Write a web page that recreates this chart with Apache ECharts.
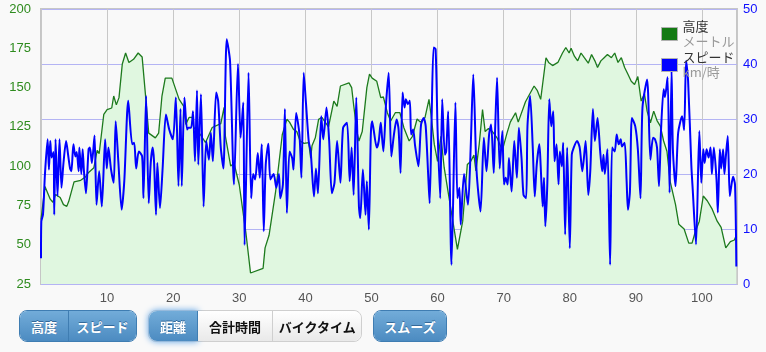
<!DOCTYPE html>
<html>
<head>
<meta charset="utf-8">
<script src="https://cdn.jsdelivr.net/npm/echarts@6/dist/echarts.min.js"></script>
<style>
  html, body { margin: 0; padding: 0; background: #f9f9f9; }
  #chart { position: absolute; left: 0; top: 0; width: 766px; height: 352px; }
  .grp {
    position: absolute; top: 310px; height: 30px; display: flex;
    border-radius: 8px; overflow: hidden; border: 1px solid #3f7db2;
  }
  .btn {
    display: flex; align-items: center; justify-content: center;
    font: bold 13px "Noto Sans CJK JP", sans-serif; color: #fff;
    background: linear-gradient(#72acd9, #4c8bc1);
    text-shadow: 0 -1px 0 #33699a;
  }
  .btn + .btn { border-left: 1px solid #3f7db2; }
  .light {
    color: #111; text-shadow: none;
    background: linear-gradient(#ffffff, #e9e9e9);
  }
  .light + .light { border-left: 1px solid #cfcfcf; }
  .grp.white { border-color: #cfcfcf; overflow: visible; }
  .active { box-shadow: 0 0 6px 1px #6aa9e6; border-radius: 8px 0 0 8px; }
</style>
</head>
<body>
<div id="chart"></div>

<div class="grp" style="left:19px;width:116px;">
  <div class="btn" style="width:48px;">高度</div>
  <div class="btn" style="width:67px;">スピード</div>
</div>
<div class="grp white" style="left:148px;width:212px;">
  <div class="btn active" style="width:48px;">距離</div>
  <div class="btn light" style="width:75px;">合計時間</div>
  <div class="btn light" style="width:88px;border-radius:0 8px 8px 0;">バイクタイム</div>
</div>
<div class="grp" style="left:373px;width:72px;">
  <div class="btn" style="width:72px;">スムーズ</div>
</div>

<script>
// 高度 (km, m)
const altitude = [
  [0, 66], [0.6, 87], [1.4, 79], [1.8, 77], [2.2, 82], [2.9, 80], [3.4, 75.5], [3.9, 74.4],
  [4.2, 77.6], [5, 90], [6, 91], [6.7, 93], [7.2, 96], [8, 99], [8.5, 110], [8.8, 108],
  [9.5, 133], [10, 136], [10.7, 137], [11, 144.6], [11.4, 139], [11.8, 143.6], [12.3, 165],
  [12.8, 172], [13.3, 166], [14, 168], [14.7, 172], [15.3, 169.5], [15.8, 145.7], [16.3, 121],
  [17.3, 118], [17.8, 121], [18.3, 144.6], [18.8, 156], [19.8, 156], [20.9, 142.5], [21.6, 138],
  [21.9, 126.5], [22.4, 131], [22.9, 131], [23.1, 124.6], [23.9, 121.4], [24.9, 115],
  [25.9, 124.6], [27.2, 127], [27.7, 137.4], [27.9, 119], [28.7, 100], [29.2, 102], [30, 88],
  [31, 57.5], [31.7, 32], [33.6, 35], [33.9, 48], [34.5, 56], [35.5, 84], [36.5, 120],
  [37.2, 129.8], [37.6, 128], [38.2, 123.4], [38.7, 122], [39.2, 116], [39.8, 114.5],
  [40.5, 115], [40.8, 105], [41, 113], [41.5, 118], [42, 129.8], [42.5, 131], [43, 128],
  [43.5, 125], [44.3, 141.4], [44.8, 138], [45.3, 151], [46.6, 153], [47, 150], [47.3, 139],
  [47.8, 122], [48.1, 116], [48.6, 122], [49.3, 150], [49.7, 158.5], [50.1, 156], [50.8, 154],
  [51.4, 143.6], [51.8, 144], [52.4, 134], [52.9, 128.7], [53.6, 134], [54.3, 134],
  [54.9, 124.5], [55.7, 116], [56.2, 119], [56.9, 130], [57.4, 128], [58.1, 131], [58.7, 142.5],
  [59, 133], [59.5, 114], [60, 103], [60.5, 119], [61, 99], [62, 73], [63, 47], [63.8, 65],
  [64.5, 101], [65, 103], [65.5, 107], [65.8, 97], [66.3, 114], [66.8, 136], [67.2, 122],
  [67.7, 124], [68.3, 122], [69, 118], [69.8, 110], [70.5, 121], [71, 128], [71.8, 134],
  [72.2, 128], [73.3, 141], [73.6, 142], [74.6, 151], [75.1, 148], [75.6, 142.5], [76.4, 169],
  [76.8, 166], [77.4, 164], [78.2, 166], [78.9, 172], [79.4, 175.5], [79.9, 172], [80.2, 175],
  [80.7, 170], [81.2, 167], [81.7, 172], [82.2, 169], [82.8, 165.5], [83.3, 171], [83.8, 167],
  [84.2, 162.8], [84.7, 167], [85.2, 169], [85.7, 171], [86.3, 169], [86.8, 172], [87.3, 166],
  [87.8, 169], [88.3, 162.8], [88.8, 158.5], [89.3, 154], [89.8, 152], [90.3, 157],
  [90.8, 141.4], [91.3, 146], [91.7, 135], [92.2, 127.6], [92.7, 135], [93.2, 129],
  [93.7, 125.5], [94.2, 116], [94.7, 109.5], [95.2, 90], [96, 75.5], [96.5, 63], [97.3, 60],
  [98, 51], [98.5, 51], [99, 58.4], [99.6, 65], [100.2, 81], [100.8, 78], [101.5, 73],
  [102.3, 65], [102.9, 61], [103.6, 48], [104.3, 52], [104.9, 53], [105.2, 56]
];

// スピード (km, km/時)
const speed = [
  [0, 4.7], [0.05, 11.4], [0.3, 12.6], [0.6, 20], [1.0, 26.3], [1.2, 20.8], [1.4, 26], [1.6, 23],
  [1.9, 24], [2.0, 12.6], [2.2, 26.3], [2.5, 16], [2.8, 26.3], [3.1, 17.5], [3.4, 22], [3.8, 26],
  [4.1, 23.5], [4.4, 21], [4.6, 20.5], [4.9, 25.4], [5.2, 23.2], [5.4, 24], [5.7, 20.5],
  [5.8, 24.8], [6.1, 20], [6.3, 24.5], [6.5, 20.5], [6.8, 16.5], [7.2, 24.5], [7.4, 24.8],
  [7.7, 22], [8.1, 27], [8.4, 14.4], [8.8, 20.5], [9.2, 14.1], [9.7, 26.3], [9.95, 21],
  [10.2, 24.8], [10.6, 20.8], [11.0, 18.4], [11.3, 29.6], [11.7, 22.3], [12.2, 13.5],
  [12.6, 18.7], [13.2, 33.3], [13.8, 25.4], [14.1, 25.7], [14.4, 21], [14.8, 24.1], [15.3, 23.2],
  [15.5, 15.6], [15.9, 34.2], [16.3, 14.7], [16.6, 22], [16.9, 24.8], [17.1, 22.3], [17.4, 12.6],
  [17.6, 22], [18.0, 13.8], [18.4, 21], [18.9, 30.8], [19.4, 28.1], [19.95, 26.3], [20.4, 33.9],
  [20.8, 17.8], [21.1, 31.8], [21.3, 17.8], [21.7, 33.9], [22.1, 28.1], [22.3, 28.4],
  [22.7, 28.4], [23.0, 31.4], [23.3, 22.3], [23.6, 35.2], [23.8, 21.7], [24.2, 34.5],
  [24.6, 14.1], [25.0, 26], [25.4, 22.6], [25.7, 27.5], [26.0, 22.3], [26.5, 34.8], [26.8, 33.3],
  [27.2, 24.8], [27.6, 21], [28.1, 44.5], [28.6, 40.5], [29.2, 18.1], [29.8, 40], [30.2, 26.6],
  [30.6, 33], [30.8, 7.1], [31.4, 38.4], [31.8, 15.6], [32.1, 20], [32.4, 19], [32.8, 23.8],
  [33.1, 19.3], [33.4, 25.4], [33.7, 9.6], [34.0, 21.7], [34.4, 25.5], [34.7, 19], [35.2, 20],
  [35.6, 17.5], [36.0, 20], [36.2, 15.6], [36.6, 18.1], [36.9, 31.8], [37.2, 12.9], [37.6, 24.1],
  [38.0, 22.9], [38.2, 20.8], [38.6, 31.1], [39.1, 27.2], [39.4, 19.3], [39.75, 38.4],
  [40.1, 32.7], [40.5, 26], [40.8, 24.1], [41.3, 15.9], [41.6, 21], [41.9, 16.5], [42.4, 30.5],
  [42.7, 26.3], [43.2, 32.1], [43.6, 26], [44.0, 16.5], [44.4, 18.4], [44.8, 26], [45.3, 18.4],
  [45.7, 28.4], [46.3, 29.3], [46.7, 18.7], [47.0, 24.8], [47.3, 16.2], [47.7, 33.9],
  [48.1, 14.1], [48.3, 12], [48.7, 20.8], [49.1, 12.6], [49.3, 18.7], [49.6, 9.9], [49.9, 27.2],
  [50.1, 29.6], [50.8, 24.8], [51.1, 26], [51.4, 29.3], [51.5, 28.1], [51.8, 24.1], [52.2, 32.7],
  [52.6, 38.4], [53.0, 23.2], [53.4, 27.2], [53.8, 29.9], [54.1, 28.1], [54.4, 20.2],
  [54.7, 34.8], [55.0, 32.1], [55.2, 33.6], [55.5, 32.7], [55.8, 33.3], [56.0, 27.2],
  [56.3, 28.1], [56.6, 25.1], [57.1, 21.4], [57.5, 29], [57.9, 30.2], [58.2, 28.7], [58.6, 19.3],
  [58.8, 14.7], [59.1, 30.2], [59.4, 43], [59.7, 42.7], [60.0, 28], [60.4, 15.6], [60.7, 33.6],
  [61.1, 23.5], [61.3, 24.1], [61.6, 31.4], [62.0, 7.1], [62.1, 3.5], [62.7, 33], [63.0, 15.6],
  [63.3, 17.5], [63.5, 10.8], [64.0, 20], [64.6, 14.4], [65.0, 24.5], [65.4, 38.1], [65.9, 20.5],
  [66.5, 13.2], [67.0, 26.6], [67.4, 20.5], [67.8, 27.2], [68.1, 29], [68.5, 20.2], [68.7, 27.8],
  [69.0, 37.5], [69.4, 21], [69.8, 27.8], [70.05, 18.1], [70.3, 19.3], [70.6, 18.1], [70.8, 22.9],
  [71.2, 16.8], [71.6, 26], [72.0, 19.3], [72.3, 28.4], [72.7, 22.9], [73.0, 16.2], [73.4, 15.6],
  [73.6, 28.7], [74.0, 34.2], [74.4, 24.8], [74.7, 15.9], [75.0, 21.7], [75.4, 25.4],
  [75.6, 21.4], [75.9, 14.1], [76.1, 19.3], [76.3, 10.5], [76.6, 18.1], [76.9, 33.6],
  [77.2, 28.7], [77.5, 31.4], [77.7, 22.3], [78.0, 25.4], [78.3, 18.1], [78.5, 24.1],
  [78.8, 21.4], [79.0, 25.7], [79.3, 9], [79.6, 24.8], [80.0, 6.5], [80.3, 23.5], [80.6, 24.8],
  [81.1, 26], [81.5, 24.8], [81.9, 20.5], [82.4, 26], [82.8, 16.2], [83.1, 20.5], [83.5, 31.8],
  [83.8, 26], [84.2, 30.2], [84.6, 24.1], [84.9, 20.5], [85.1, 23.5], [85.3, 20], [85.7, 24.5],
  [86.1, 3.5], [86.4, 24.8], [86.8, 24.1], [87.1, 27.2], [87.4, 25.4], [87.7, 26.3], [87.9, 25],
  [88.3, 25.7], [88.6, 18.7], [88.8, 13.5], [89.1, 16.8], [89.4, 30.2], [89.9, 28.7],
  [90.3, 24.5], [90.7, 15.6], [91.0, 32.1], [91.7, 37.2], [92.2, 22.6], [92.6, 26.6],
  [92.9, 26.3], [93.2, 24.8], [93.5, 17.8], [93.8, 27.8], [94.2, 35.4], [94.4, 34], [94.8, 37.6],
  [95.1, 16.6], [95.4, 39], [95.6, 24.5], [96.0, 17.8], [96.4, 27.5], [97.0, 30.5], [97.3, 28],
  [97.6, 40.6], [97.9, 37], [98.4, 21.4], [98.6, 17.2], [99.1, 7.2], [99.6, 27.8], [99.9, 18.4],
  [100.2, 24.5], [100.4, 22], [100.7, 24.5], [101.0, 23], [101.3, 24.8], [101.5, 20],
  [101.8, 24.8], [102.2, 19], [102.4, 13], [102.7, 24.5], [102.9, 21], [103.2, 24.5], [103.4, 20],
  [103.6, 23], [103.9, 26.9], [104.2, 16], [104.4, 17.5], [104.7, 19.5], [105.0, 18], [105.2, 3.2]
];

const distMax = 105.3;
const altTicks = [25, 200, 25];   // min, max, interval
const speedTicks = [0, 50, 10];

const labelFont = '"Liberation Sans", Arial, sans-serif';

const chart = echarts.init(document.getElementById('chart'), null, { renderer: 'canvas' });

chart.setOption({
  animation: false,
  backgroundColor: '#f9f9f9',
  grid: {
    left: 41, right: 29, top: 9, bottom: 68,
    show: true, borderColor: '#c6c6c6', borderWidth: 2, backgroundColor: 'transparent'
  },
  legend: {
    orient: 'vertical',
    left: 661, top: 20, padding: 0,
    itemWidth: 16, itemHeight: 13, itemGap: 3,
    icon: 'rect',
    itemStyle: { borderColor: '#b0b0b0', borderWidth: 1 },
    data: ['高度', 'スピード'],
    formatter: (name) => name === '高度' ? '{t|高度}\n{u|メートル}' : '{t|スピード}\n{u|km/時}',
    textStyle: {
      fontFamily: '"Noto Sans CJK JP", sans-serif',
      rich: {
        t: { fontSize: 13, color: '#333', lineHeight: 15, fontFamily: '"Noto Sans CJK JP", sans-serif' },
        u: { fontSize: 13, color: '#999', lineHeight: 15, fontFamily: '"Noto Sans CJK JP", sans-serif' }
      }
    }
  },
  xAxis: {
    type: 'value', min: 0, max: distMax, interval: 10,
    axisLine: { show: false }, axisTick: { show: false },
    axisLabel: {
      showMinLabel: false, showMaxLabel: false,
      color: '#555', fontSize: 13, fontFamily: labelFont, margin: 8
    },
    splitLine: { show: true, lineStyle: { color: '#c8c8c8', width: 1 } }
  },
  yAxis: [
    {
      type: 'value', min: altTicks[0], max: altTicks[1], interval: altTicks[2],
      axisLine: { show: false }, axisTick: { show: false },
      axisLabel: { color: '#2e8b1e', fontSize: 13, fontFamily: labelFont, margin: 10 },
      splitLine: { show: false }
    },
    {
      type: 'value', min: speedTicks[0], max: speedTicks[1], interval: speedTicks[2],
      axisLine: { show: false }, axisTick: { show: false },
      axisLabel: { color: '#1010ff', fontSize: 13, fontFamily: labelFont, margin: 6 },
      splitLine: { show: true, lineStyle: { color: '#b4b4f4', width: 1 } }
    }
  ],
  series: [
    {
      name: '高度', type: 'line', yAxisIndex: 0,
      data: altitude, showSymbol: false, smooth: false,
      itemStyle: { color: '#137a13' },
      lineStyle: { color: '#1d7a1d', width: 1.3 },
      areaStyle: { origin: 'start', color: '#e0f7e0', opacity: 1 },
      z: 1
    },
    {
      name: 'スピード', type: 'line', yAxisIndex: 1,
      data: speed, showSymbol: false, smooth: 0.25,
      itemStyle: { color: '#0000ff' },
      lineStyle: { color: '#0000ff', width: 2 },
      z: 2
    }
  ]
});
</script>
</body>
</html>
